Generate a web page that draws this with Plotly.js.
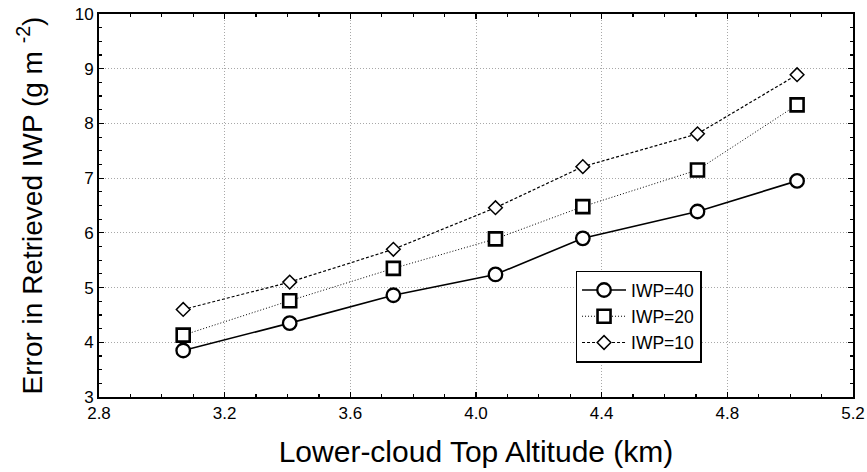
<!DOCTYPE html>
<html>
<head>
<meta charset="utf-8">
<script src="https://cdn.plot.ly/plotly-3.0.1.min.js"></script>
<style>html,body{margin:0;padding:0;background:#fff;}#chart{width:867px;height:472px;}</style>
</head>
<body>
<div id="chart"></div>
<script>
const altitude = [3.068, 3.407, 3.737, 4.062, 4.34, 4.705, 5.022];
const iwp40 = [3.85, 4.35, 4.86, 5.24, 5.9, 6.39, 6.95];
const iwp20 = [4.13, 4.76, 5.35, 5.89, 6.48, 7.15, 8.34];
const iwp10 = [4.60, 5.10, 5.70, 6.46, 7.21, 7.81, 8.89];
const seriesNames = ['IWP=40', 'IWP=20', 'IWP=10'];
const xTicks = [2.8, 3.2, 3.6, 4.0, 4.4, 4.8, 5.2];
const xTickText = ['2.8', '3.2', '3.6', '4.0', '4.4', '4.8', '5.2'];
const yTicks = [3, 4, 5, 6, 7, 8, 9, 10];

const font = 'Liberation Sans, Arial, sans-serif';

const traces = [
  {x: altitude, y: iwp40, name: seriesNames[0], legendgroup: 'a', mode: 'lines+markers',
   line: {color: '#000', width: 1.6, dash: 'solid'},
   marker: {symbol: 'circle', size: 13.5, color: '#fff', line: {color: '#000', width: 2.3}}},
  {x: altitude, y: iwp20, name: seriesNames[1], legendgroup: 'b', mode: 'lines+markers',
   line: {color: '#000', width: 1, dash: '1px,2px'},
   marker: {symbol: 'square', size: 13, color: '#fff', line: {color: '#000', width: 2.6}}},
  {x: altitude, y: iwp10, name: seriesNames[2], legendgroup: 'c', mode: 'lines+markers',
   line: {color: '#000', width: 1.2, dash: '3px,2px'},
   marker: {symbol: 'diamond', size: 10.5, color: '#fff', line: {color: '#000', width: 1.5}}}
];

const axisCommon = {
  showline: true, linecolor: '#000', linewidth: 2, mirror: 'ticks',
  ticks: 'inside', ticklen: 5, tickwidth: 1.2, tickcolor: '#000',
  showgrid: true, gridcolor: '#a8a8a8', gridwidth: 1, griddash: '1px,2px',
  zeroline: false,
  tickfont: {family: font, size: 17, color: '#000'}
};

const layout = {
  width: 867, height: 472,
  margin: {l: 98.5, r: 13.7, t: 14, b: 75},
  paper_bgcolor: '#fff', plot_bgcolor: '#fff',
  showlegend: true,
  xaxis: Object.assign({}, axisCommon, {
    range: [2.8, 5.2], tickmode: 'array', tickvals: xTicks, ticktext: xTickText,
    minor: {dtick: 0.1, ticks: 'inside', ticklen: 3, tickcolor: '#000', showgrid: false},
    title: {text: 'Lower-cloud Top Altitude (km)', font: {family: font, size: 30, color: '#000'}, standoff: 19}
  }),
  yaxis: Object.assign({}, axisCommon, {
    range: [3, 10], tickmode: 'array', tickvals: yTicks,
    minor: {dtick: 0.25, ticks: 'inside', ticklen: 3, tickcolor: '#000', showgrid: false},
    title: {text: 'Error in Retrieved IWP (g m <sup>-2</sup>)', font: {family: font, size: 28, color: '#000'}, standoff: 24}
  }),
  legend: {
    x: 0.632, y: 0.33, xanchor: 'left', yanchor: 'top',
    bgcolor: '#fff', bordercolor: '#000', borderwidth: 1.5,
    font: {family: font, size: 17.5, color: '#000'},
    traceorder: 'grouped', tracegroupgap: 0.5, itemwidth: 44
  }
};

Plotly.newPlot('chart', traces, layout, {displayModeBar: false, staticPlot: true});
</script>
</body>
</html>
